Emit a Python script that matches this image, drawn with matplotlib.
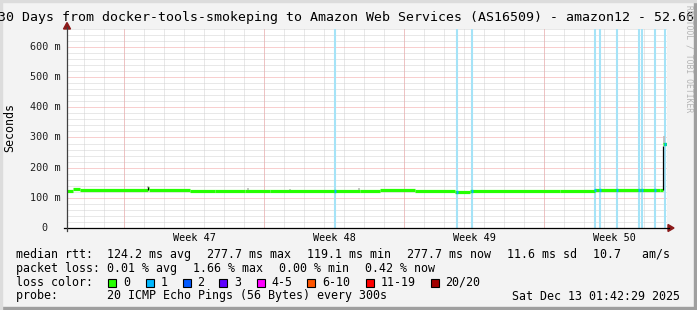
import numpy as np
import matplotlib
matplotlib.use('Agg')
import matplotlib.pyplot as plt
from matplotlib.patches import Rectangle, Polygon

W, H = 697, 310
MONO = 'DejaVu Sans Mono'

# median rtt in ms, steps start at these days (0 = start of the 30 day window)
med_days = [0.0, 0.3, 0.65, 4.05, 4.1, 6.15, 7.4, 8.9, 10.15, 13.4, 14.65,
            15.65, 17.4, 19.4, 20.15, 24.65, 26.4, 29.65, 29.82]
med_ms = [124, 128, 125, 133, 125, 121, 123, 121, 123, 124, 121,
          126, 123, 120, 123, 123.5, 126, 127, 277.7]

# samples with 1/20 loss (light blue bars)
loss1_days = [13.4, 19.5, 20.25, 26.4, 26.65, 27.5, 28.6, 28.75, 29.4, 29.9]

# smoke spikes (day, top of smoke in ms)
smoke_days = [4.07, 9.05, 11.15, 14.6, 29.85]
smoke_top = [140, 131, 130, 131, 305]

week_labels = ['Week 47', 'Week 48', 'Week 49', 'Week 50']
week_start = [2.85, 9.85, 16.85, 23.85]
ytick_ms = [0, 100, 200, 300, 400, 500, 600]
ytick_lbl = ['0', '100 m', '200 m', '300 m', '400 m', '500 m', '600 m']

loss_names = ['0', '1', '2', '3', '4-5', '6-10', '11-19', '20/20']
loss_colors = ['#26ff00', '#00b8ff', '#0059ff', '#5e00ff', '#ff00ff',
               '#ff5500', '#ff0000', '#a10000']

fig = plt.figure(figsize=(W / 100, H / 100), dpi=100, facecolor='#f3f3f3')

def px(x, y):
    return x / W, 1 - y / H

x0, x1, ytop, ybot = 67, 667, 28.5, 228
ax = fig.add_axes([x0 / W, 1 - ybot / H, (x1 - x0) / W, (ybot - ytop) / H])
ax.set_facecolor('white')
ax.set_xlim(0, 30)
ax.set_ylim(0, (ybot - ytop) / 0.30167)
for s in ax.spines.values():
    s.set_visible(False)

dot = (0, (1, 1))
# minor grid
for d in np.arange(week_start[0] - 2, 30, 1.0):
    ax.axvline(d, color='#d2d2d2', lw=0.72, ls=dot, zorder=1)
for m in range(20, 661, 20):
    if m % 100:
        ax.axhline(m, color='#d2d2d2', lw=0.72, ls=dot, zorder=1)
# major grid
for d in week_start:
    ax.axvline(d, color='#f2a0a0', lw=0.72, ls=dot, zorder=2)
for m in ytick_ms[1:]:
    ax.axhline(m, color='#f2a0a0', lw=0.72, ls=dot, zorder=2)

# loss bars
for d in loss1_days:
    ax.axvline(d, color='#a5e3f7', lw=1.5, zorder=3)

# smoke
for d, t in zip(smoke_days, smoke_top):
    i = np.searchsorted(med_days, d, side='right') - 1
    ax.vlines(d, med_ms[i], t, color='#bbbbbb', lw=1.2, zorder=4)

# median line
ends = med_days[1:] + [30]
ax.hlines(med_ms, med_days, ends, color=loss_colors[0], lw=2.3, zorder=5)
ax.vlines(med_days[-1], med_ms[-2], med_ms[-1] - 5, color='black', lw=0.9, zorder=6)
ax.vlines(4.05, 125, 136, color='black', lw=0.9, zorder=6)
for d in loss1_days:
    i = np.searchsorted(med_days, d, side='right') - 1
    ax.hlines(med_ms[i], d - 0.06, d + 0.06, color=loss_colors[1], lw=2.3, zorder=6)

# ticks
ax.set_xticks([w + 3.5 for w in week_start], week_labels)
ax.tick_params(axis='x', length=0, pad=3.5, labelsize=7.3)
for lab in ax.get_xticklabels():
    lab.set_fontfamily(MONO)
ax.set_yticks([])
ytr = ax.get_yaxis_transform()
for m, lab in zip(ytick_ms, ytick_lbl):
    xr = (60.8 - x0) / (x1 - x0) if lab != '0' else (47.5 - x0) / (x1 - x0)
    ax.text(xr, m, lab, transform=ytr, ha='right', va='center',
            fontsize=7.3, family=MONO, color='#202020')

# axes lines with arrows
fig.add_artist(plt.Line2D([px(64, 0)[0], px(669, 0)[0]], [px(0, 228)[1]] * 2,
                          color='black', lw=0.9))
fig.add_artist(plt.Line2D([px(67, 0)[0]] * 2, [px(0, 231)[1], px(0, 27)[1]],
                          color='#404040', lw=0.9))
fig.add_artist(Polygon([px(668, 224.5), px(668, 231.5), px(674, 228)],
                       closed=True, color='#8b1a1a'))
fig.add_artist(Polygon([px(63.5, 29), px(70.5, 29), px(67, 22.5)],
                       closed=True, color='#8b1a1a'))

# title and labels
fig.text(*px(-2, 18), '30 Days from docker-tools-smokeping to Amazon Web Services (AS16509) - amazon12 - 52.66.',
         ha='left', va='center', fontsize=9.5, family=MONO, color='black')
fig.text(*px(10, 128), 'Seconds', rotation=90, ha='center', va='center',
         fontsize=8.35, family=MONO)
fig.text(*px(688.5, 5), 'RRDTOOL / TOBI OETIKER', rotation=270, ha='center', va='top',
         fontsize=5.8, family=MONO, color='#b4b4b4')

# legend
fs = 8.35
row1 = [(16, 'median rtt:  124.2 ms avg'), (207.3, '277.7 ms max'), (307.3, '119.1 ms min'),
        (407.3, '277.7 ms now'), (507.3, '11.6 ms sd'), (593.3, '10.7   am/s')]
row2 = [(16, 'packet loss: 0.01 % avg'), (193, '1.66 % max'), (279.3, '0.00 % min'),
        (365.3, '0.42 % now')]
for x, t in row1:
    fig.text(*px(x, 254.3), t, ha='left', va='center', fontsize=fs, family=MONO)
for x, t in row2:
    fig.text(*px(x, 268.3), t, ha='left', va='center', fontsize=fs, family=MONO)
fig.text(*px(16, 282.3), 'loss color:', ha='left', va='center', fontsize=fs, family=MONO)
box_x = [108.3, 145.7, 182.7, 219.3, 256.7, 307.3, 365.7, 430.7]
for bx, name, c in zip(box_x, loss_names, loss_colors):
    fig.add_artist(Rectangle(px(bx, 286.5), 8 / W, 8 / H, facecolor=c,
                             edgecolor='black', lw=0.8))
    fig.text(*px(bx + 14.8, 282.3), name, ha='left', va='center', fontsize=fs, family=MONO)
fig.text(*px(16, 296), 'probe:       20 ICMP Echo Pings (56 Bytes) every 300s',
         ha='left', va='center', fontsize=fs, family=MONO)
fig.text(*px(680.5, 296), 'Sat Dec 13 01:42:29 2025', ha='right', va='center',
         fontsize=fs, family=MONO)

# frame
fig.add_artist(Rectangle((0, 0), 1, 3 / H, color='#9f9f9f'))
fig.add_artist(Rectangle((1 - 3 / W, 0), 3 / W, 1, color='#9f9f9f'))
fig.add_artist(Rectangle((0, 1 - 2 / H), 1, 2 / H, color='#dcdcdc'))
fig.add_artist(Rectangle((0, 0), 2 / W, 1, color='#dcdcdc'))

fig.savefig('out.png', dpi=100, facecolor=fig.get_facecolor())
